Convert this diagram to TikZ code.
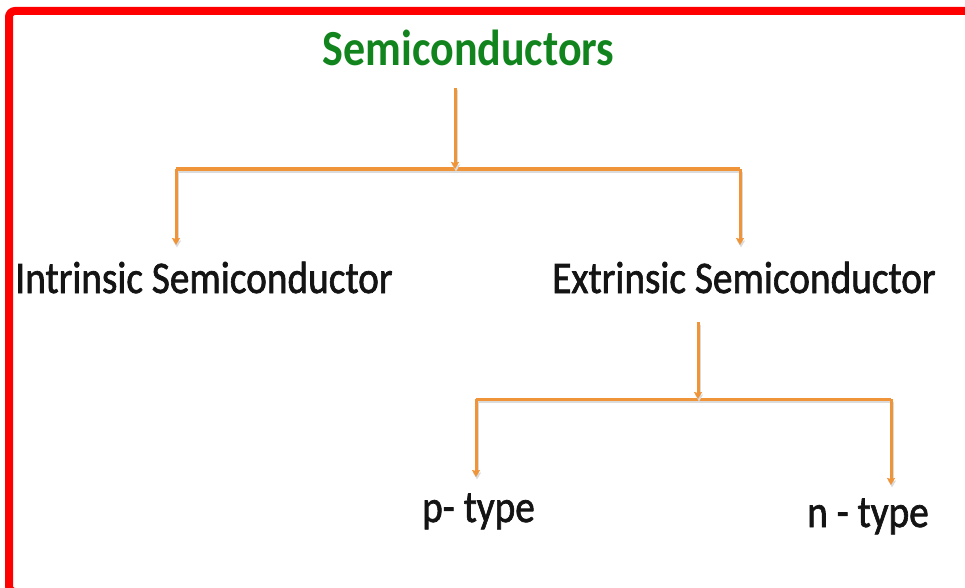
\documentclass[tikz,border=0pt]{standalone}
\usepackage{fontspec}
\setmainfont{Carlito}
\newfontfamily\semib{Carlito}[RawFeature={embolden=1.6}]
\usetikzlibrary{arrows.meta}
\definecolor{lineor}{RGB}{240,148,58}
\definecolor{titlegreen}{RGB}{18,132,30}
\definecolor{frame}{RGB}{255,0,0}
\definecolor{txt}{RGB}{20,20,20}
\newcommand{\tall}[1]{\scalebox{1}[1.15]{#1}}
\tikzset{
  lbl/.style={anchor=base, inner sep=0pt, text=txt, font=\semib\fontsize{39.3}{46}\selectfont},
  conn/.style={draw=lineor, line width=3pt,
    preaction={draw=black!14, line width=3pt, transform canvas={shift={(1pt,-2.5pt)}}}},
  tipped/.style={conn, -{Stealth[length=7pt,width=8pt,inset=1pt]}},
}
\begin{document}
\begin{tikzpicture}[x=1pt,y=-1pt]
\useasboundingbox (0,0) rectangle (965,588);
\draw[frame, line width=8pt, rounded corners=6pt] (9,11) rectangle (980,592);
% nodes
\node[lbl, text=titlegreen, font=\fontsize{44}{50}\selectfont\bfseries] (sc) at (468.5,66) {\tall{Semiconductors}};
\node[lbl] (intr) at (204,293) {\tall{Intrinsic Semiconductor}};
\node[lbl] (extr) at (744,293) {\tall{Extrinsic Semiconductor}};
\node[lbl] (ptype) at (478.5,522) {\tall{p- type}};
\node[lbl] (ntype) at (868,527) {\tall{n - type}};
% junctions
\coordinate (t1) at (455,88);
\coordinate (j1) at (455,169);
\coordinate (l1) at (176,169);
\coordinate (r1) at (740,169);
\coordinate (la) at (176,245);
\coordinate (ra) at (740,245);
\coordinate (t2) at (698,322);
\coordinate (j2) at (698,399);
\coordinate (l2) at (476,399);
\coordinate (r2) at (891,399);
\coordinate (pa) at (476,477);
\coordinate (na) at (891,485);
% connectors
\draw[conn] (l1) -- (r1);
\draw[tipped] (t1) -- (j1);
\draw[tipped] (l1) -- (la);
\draw[tipped] (r1) -- (ra);
\draw[conn] (l2) -- (r2);
\draw[tipped] (t2) -- (j2);
\draw[tipped] (l2) -- (pa);
\draw[tipped] (r2) -- (na);
\end{tikzpicture}
\end{document}
